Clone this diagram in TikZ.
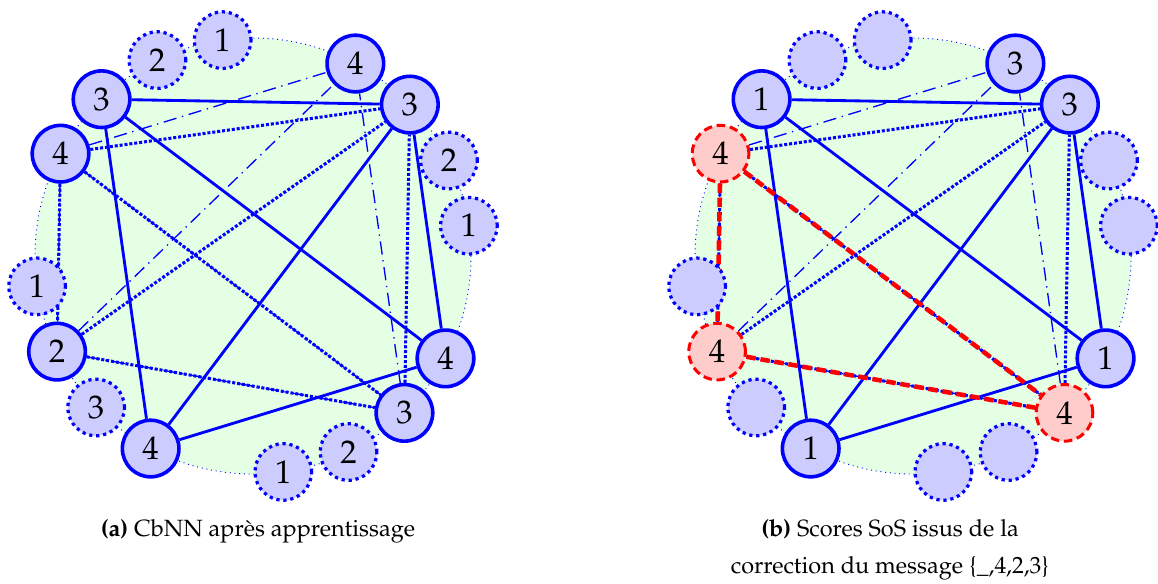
\documentclass[tikz,border=0pt]{standalone}
\usepackage{mathpazo}
\usepackage[T1]{fontenc}
\usepackage{tikz}
\usetikzlibrary{%
	calc,
	positioning
}
\tikzstyle{neuron}=[circle, minimum size=1.05cm, inner sep=0pt, font=\LARGE, fill=blue!20]
\tikzstyle{active} = [neuron, draw=blue, line width=1.9pt]
\tikzstyle{idle} = [neuron, draw=blue, dotted, line width=1.7pt]
\tikzstyle{winner} = [neuron, draw=red, fill=red!20, dash pattern=on 4.5pt off 2.5pt, line width=1.6pt]
\tikzstyle{blob} = [fill=green!10, draw=blue, dotted, line width=0.5pt]
\tikzstyle{msgone} = [draw=blue, line width=1.5pt]
\tikzstyle{msgtwo} = [draw=blue, densely dotted, line width=1.6pt]
\tikzstyle{msgthree} = [draw=blue, line width=0.7pt, dash pattern=on 7pt off 3pt on 0.7pt off 3pt]
\tikzstyle{score} = [draw=red, dash pattern=on 5pt off 2.5pt, line width=2.4pt]
\tikzstyle{caption} = [font=\fontsize{12.4}{19.8}\selectfont, align=center]
\pgfdeclarelayer{bg}
\pgfdeclarelayer{background}
\pgfsetlayers{bg,background,main}

\begin{document}
\begin{tikzpicture}
	\useasboundingbox (0,0) rectangle (21.48,-10.815);
	\coordinate (ctrL) at (4.693,-4.749);
	\coordinate (ctrR) at (16.936,-4.749);
	
	% Green area behind each network
	\begin{pgfonlayer}{bg}
	\foreach \side in {L,R}
	\path[blob] (ctr\side) circle (4.044);
	\end{pgfonlayer}
	
	% Left network: idle neurons
	\foreach \name/\ang/\val in {a1/98/1, a2/116/2, b1/188/1, b3/224/3, c1/278/1, c2/296/2, d1/8/1, d2/26/2}
	\node[idle] (L\name) at ($(ctrL)+(\ang:4.044)$) {\val};
	
	% Left network: active neurons
	\foreach \name/\ang/\val in {a3/134/3, a4/152/4, b2/206/2, b4/242/4, c3/314/3, c4/332/4, d3/44/3, d4/62/4}
	\node[active] (L\name) at ($(ctrL)+(\ang:4.044)$) {\val};
	
	% Right network: idle neurons
	\foreach \name/\ang in {a1/98, a2/116, b1/188, b3/224, c1/278, c2/296, d1/8, d2/26}
	\node[idle] (R\name) at ($(ctrR)+(\ang:4.044)$) {};
	
	% Right network: active neurons with their scores
	\foreach \name/\ang/\val in {a3/134/1, b4/242/1, c4/332/1, d3/44/3, d4/62/3}
	\node[active] (R\name) at ($(ctrR)+(\ang:4.044)$) {\val};
	
	\foreach \name/\ang/\val in {a4/152/4, b2/206/4, c3/314/4}
	\node[winner] (R\name) at ($(ctrR)+(\ang:4.044)$) {\val};
	
	% Connections of the stored messages
	\begin{pgfonlayer}{background}
	\foreach \side in {L,R}{
		\foreach \s/\d in {a3/b4, a3/c4, a3/d3, b4/c4, b4/d3, c4/d3}
		\path[msgone] (\side\s) -- (\side\d);
		\foreach \s/\d in {a4/b2, a4/c3, a4/d3, b2/c3, b2/d3, c3/d3}
		\path[msgtwo] (\side\s) -- (\side\d);
		\foreach \s/\d in {a4/b2, a4/c3, a4/d4, b2/c3, b2/d4, c3/d4}
		\path[msgthree] (\side\s) -- (\side\d);
	}
	% Best clique after decoding
	\foreach \s/\d in {a4/b2, a4/c3, b2/c3}
	\path[score] (R\s) -- (R\d);
	\end{pgfonlayer}
	
	% Captions
	\node[caption] (capL) at (4.786,-9.85) {\textbf{(a)} CbNN apr\`es apprentissage};
	\node[caption] (capR) at (16.51,-10.2) {\textbf{(b)} Scores SoS issus de la\\correction du message \{\_,4,2,3\}};
	
\end{tikzpicture}
\end{document}
